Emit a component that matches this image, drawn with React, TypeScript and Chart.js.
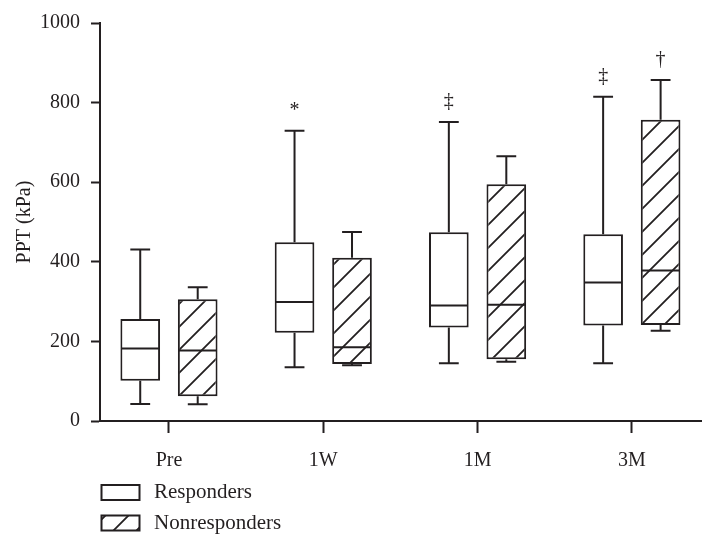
import React, { useEffect, useRef } from 'react';
import { Chart, registerables } from 'chart.js';

Chart.register(...registerables);

const categories = ['Pre', '1W', '1M', '3M'];

const respMin = [43, 135, 145, 145];
const respQ1 = [101, 222, 235, 240];
const respMedian = [182, 299, 290, 348];
const respQ3 = [256, 449, 474, 469];
const respMax = [431, 729, 751, 815];
const respMarks = ['', '*', '‡', '‡'];

const nonMin = [42, 140, 149, 227];
const nonQ1 = [62, 143, 155, 241];
const nonMedian = [177, 185, 292, 378];
const nonQ3 = [306, 410, 595, 757];
const nonMax = [336, 475, 665, 857];
const nonMarks = ['', '', '', '†'];

const seriesLabels = ['Responders', 'Nonresponders'];
const yTickValues = [0, 200, 400, 600, 800, 1000];
const yTitle = 'PPT (kPa)';

const INK = '#231f20';
const FONT = "'Liberation Serif', 'DejaVu Serif', serif";

function makeHatch(ctx: CanvasRenderingContext2D): CanvasPattern | string {
  const s = 23;
  const c = document.createElement('canvas');
  c.width = s;
  c.height = s;
  const g = c.getContext('2d');
  if (!g) return '#fff';
  g.fillStyle = '#ffffff';
  g.fillRect(0, 0, s, s);
  g.strokeStyle = INK;
  g.lineWidth = 1.8;
  g.beginPath();
  g.moveTo(-2, s + 2);
  g.lineTo(s + 2, -2);
  g.moveTo(-2, 2);
  g.lineTo(2, -2);
  g.moveTo(s - 2, s + 2);
  g.lineTo(s + 2, s - 2);
  g.stroke();
  return ctx.createPattern(c, 'repeat') || '#fff';
}

export default function App() {
  const ref = useRef<HTMLCanvasElement | null>(null);

  useEffect(() => {
    const canvas = ref.current;
    if (!canvas) return;
    const ctx = canvas.getContext('2d');
    if (!ctx) return;
    const hatch = makeHatch(ctx);

    const stats = [
      { min: respMin, med: respMedian, max: respMax, marks: respMarks },
      { min: nonMin, med: nonMedian, max: nonMax, marks: nonMarks },
    ];

    const whiskerPlugin = {
      id: 'whiskers',
      afterDatasetsDraw(chart: any) {
        const c = chart.ctx as CanvasRenderingContext2D;
        const ys = chart.scales.y;
        c.save();
        c.strokeStyle = INK;
        c.fillStyle = INK;
        c.lineWidth = 2;
        stats.forEach((st, d) => {
          const meta = chart.getDatasetMeta(d);
          const ds = chart.data.datasets[d];
          meta.data.forEach((bar: any, i: number) => {
            const { x, width } = bar.getProps(['x', 'width'], true);
            const raw = ds.data[i].y as number[];
            const q1 = ys.getPixelForValue(raw[0]);
            const q3 = ys.getPixelForValue(raw[1]);
            const pMin = ys.getPixelForValue(st.min[i]);
            const pMax = ys.getPixelForValue(st.max[i]);
            const pMed = ys.getPixelForValue(st.med[i]);
            const cap = width / 4;
            c.beginPath();
            c.moveTo(x, q3);
            c.lineTo(x, pMax);
            c.moveTo(x - cap, pMax);
            c.lineTo(x + cap, pMax);
            c.moveTo(x, q1);
            c.lineTo(x, pMin);
            c.moveTo(x - cap, pMin);
            c.lineTo(x + cap, pMin);
            c.moveTo(x - width / 2 + 1, pMed);
            c.lineTo(x + width / 2 - 1, pMed);
            c.stroke();
            const mark = st.marks[i];
            if (mark) {
              c.font = `20px ${FONT}`;
              c.textAlign = 'center';
              c.textBaseline = 'middle';
              c.fillText(mark, x, pMax - 20);
            }
          });
        });
        c.restore();
      },
    };

    const legendPlugin = {
      id: 'customLegend',
      afterDraw(chart: any) {
        const c = chart.ctx as CanvasRenderingContext2D;
        c.save();
        const fills: (string | CanvasPattern)[] = ['#ffffff', hatch];
        const rows = [492.5, 523];
        seriesLabels.forEach((label, k) => {
          const cy = rows[k];
          const x0 = 101.5;
          const w = 38;
          const h = 15;
          const y0 = cy - h / 2;
          c.fillStyle = fills[k] as any;
          c.fillRect(x0, y0, w, h);
          c.strokeStyle = INK;
          c.lineWidth = 2;
          c.strokeRect(x0, y0, w, h);
          c.fillStyle = INK;
          c.font = `21px ${FONT}`;
          c.textAlign = 'left';
          c.textBaseline = 'middle';
          c.fillText(label, 154, cy);
        });
        c.restore();
      },
    };

    const chart = new Chart(ctx, {
      type: 'bar',
      data: {
        datasets: [
          {
            label: seriesLabels[0],
            data: categories.map((_, i) => ({ x: i, y: [respQ1[i], respQ3[i]] })) as any,
            backgroundColor: '#ffffff',
            borderColor: INK,
            borderWidth: 2,
            borderSkipped: false,
            categoryPercentage: 0.745,
            barPercentage: 0.69,
          },
          {
            label: seriesLabels[1],
            data: categories.map((_, i) => ({ x: i, y: [nonQ1[i], nonQ3[i]] })) as any,
            backgroundColor: hatch as any,
            borderColor: INK,
            borderWidth: 2,
            borderSkipped: false,
            categoryPercentage: 0.745,
            barPercentage: 0.69,
          },
        ],
      },
      options: {
        responsive: false,
        maintainAspectRatio: false,
        animation: false,
        layout: { padding: { left: 0, top: 22, right: 15, bottom: 0 } },
        plugins: {
          legend: { display: false },
          tooltip: { enabled: false },
        },
        scales: {
          x: {
            type: 'linear',
            min: -0.447,
            max: 3.448,
            offset: false,
            grid: {
              display: true,
              offset: false,
              drawOnChartArea: false,
              drawTicks: true,
              tickLength: 12,
              tickWidth: 2,
              tickColor: INK,
            },
            border: { display: true, color: INK, width: 2 },
            afterBuildTicks: (scale: any) => {
              scale.ticks = categories.map((_, i) => ({ value: i }));
            },
            afterFit: (scale: any) => {
              scale.height = 126;
            },
            ticks: {
              autoSkip: false,
              maxRotation: 0,
              padding: 16,
              color: INK,
              font: { family: FONT, size: 20 },
              callback: (v: any) => categories[Number(v)] ?? '',
            },
          },
          y: {
            type: 'linear',
            min: 0,
            max: 1000,
            grid: {
              display: true,
              drawOnChartArea: false,
              drawTicks: true,
              tickLength: 9,
              tickWidth: 2,
              tickColor: INK,
            },
            border: { display: true, color: INK, width: 2 },
            afterBuildTicks: (scale: any) => {
              scale.ticks = yTickValues.map((v) => ({ value: v }));
            },
            afterFit: (scale: any) => {
              scale.width = 100;
            },
            ticks: {
              padding: 11,
              color: INK,
              font: { family: FONT, size: 20 },
              callback: (v: any) => String(v),
            },
            title: {
              display: true,
              text: yTitle,
              color: INK,
              font: { family: FONT, size: 20 },
              padding: { top: 13, bottom: 0 },
            },
          },
        },
      } as any,
      plugins: [whiskerPlugin, legendPlugin],
    });

    return () => {
      chart.destroy();
    };
  }, []);

  return (
    <div style={{ position: 'absolute', left: 0, top: 0, width: 716, height: 547, background: '#fff' }}>
      <canvas ref={ref} width={716} height={547} style={{ display: 'block' }} />
    </div>
  );
}
